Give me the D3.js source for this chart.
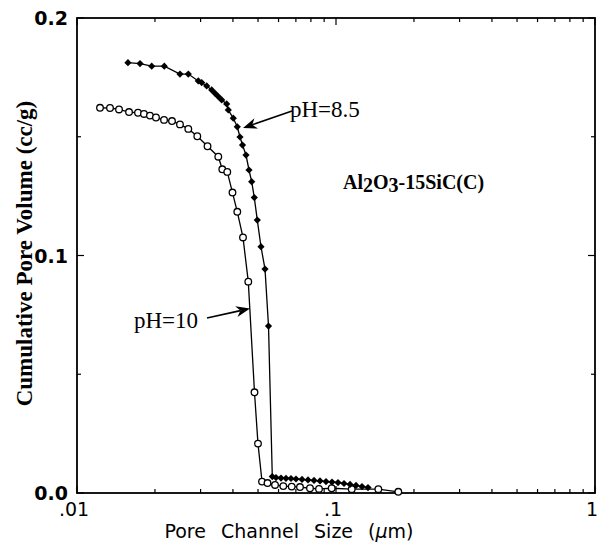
<!DOCTYPE html>
<html>
<head>
<meta charset="utf-8">
<script src="https://cdn.jsdelivr.net/npm/d3@7"></script>
<style>
  html, body { margin: 0; padding: 0; background: #fff; }
  svg { display: block; }
</style>
</head>
<body>
<div id="chart"></div>
<script>
// pore channel size (um) vs cumulative pore volume (cc/g)
var ph85Size = [0.01573, 0.01751, 0.01943, 0.02173, 0.02498, 0.02690, 0.02940, 0.03030, 0.03168, 0.03312,
  0.03411, 0.03512, 0.03620, 0.03784, 0.03838, 0.04012, 0.04158, 0.04259, 0.04355, 0.04493,
  0.04614, 0.04726, 0.04837, 0.04967, 0.05133, 0.05320, 0.05488, 0.05676, 0.05866, 0.06133,
  0.06411, 0.06703, 0.07008, 0.07393, 0.07797, 0.08226, 0.08676, 0.09151, 0.09652, 0.1018,
  0.1074, 0.1133, 0.1195, 0.1260, 0.1329];
var ph85Volume = [0.1812, 0.1808, 0.1797, 0.1797, 0.1764, 0.1764, 0.1735, 0.1728, 0.1714, 0.1697,
  0.1683, 0.1669, 0.1655, 0.1638, 0.1613, 0.1578, 0.1542, 0.1499, 0.1465, 0.1423,
  0.1360, 0.1311, 0.1244, 0.1149, 0.1037, 0.0943, 0.0703, 0.0069, 0.0065, 0.0063,
  0.0062, 0.0061, 0.0059, 0.0057, 0.0055, 0.0053, 0.0051, 0.0048, 0.0046, 0.0044,
  0.0040, 0.0036, 0.0032, 0.0027, 0.0023];

var ph10Size = [0.01227, 0.01341, 0.01453, 0.01588, 0.01720, 0.01814, 0.01913, 0.02018, 0.02168, 0.02327,
  0.02498, 0.02690, 0.02914, 0.03191, 0.03512, 0.03639, 0.03804, 0.03984, 0.04158, 0.04374,
  0.04585, 0.04845, 0.04998, 0.05180, 0.05440, 0.05815, 0.06259, 0.06745, 0.07261, 0.07935,
  0.08597, 0.09625, 0.1150, 0.1457, 0.1740];
var ph10Volume = [0.1622, 0.1621, 0.1615, 0.1604, 0.1601, 0.1596, 0.1589, 0.1581, 0.1571, 0.1566,
  0.1552, 0.1533, 0.1502, 0.1460, 0.1416, 0.1363, 0.1352, 0.1265, 0.1184, 0.1076,
  0.0890, 0.0424, 0.0208, 0.0048, 0.0042, 0.0034, 0.0029, 0.0027, 0.0025, 0.0020,
  0.0017, 0.0020, 0.0016, 0.0016, 0.0005];

var xTickValues = [0.01, 0.1, 1];
var xTickLabels = [".01", ".1", "1"];
var yTickValues = [0, 0.1, 0.2];
var yTickLabels = ["0.0", "0.1", "0.2"];
var yMinorValues = [0.05, 0.15];

(function() {
  var width = 599, height = 544;
  var pLeft = 77, pRight = 595, pTop = 18, pBottom = 493;

  var svg = d3.select('#chart').append('svg')
    .attr('width', width)
    .attr('height', height);

  var x = d3.scaleLog().domain([0.01, 1]).range([pLeft, pRight]);
  var y = d3.scaleLinear().domain([0, 0.2]).range([pBottom, pTop]);

  var serif = '"Liberation Serif", "Times New Roman", serif'
    , sans = '"DejaVu Sans", Verdana, sans-serif';

  //ticks, all pointing inward, mirrored on top and right
  var xMinor = x.ticks().filter(function(d) { return xTickValues.indexOf(d) < 0; });
  var ticks = svg.append('g').attr('stroke', '#000').attr('stroke-width', 1.2);

  function vtick(xv, len) {
    ticks.append('line').attr('x1', x(xv)).attr('x2', x(xv)).attr('y1', pBottom).attr('y2', pBottom - len);
    ticks.append('line').attr('x1', x(xv)).attr('x2', x(xv)).attr('y1', pTop).attr('y2', pTop + len);
  }
  function htick(yv, len) {
    ticks.append('line').attr('x1', pLeft).attr('x2', pLeft + len).attr('y1', y(yv)).attr('y2', y(yv));
    ticks.append('line').attr('x1', pRight).attr('x2', pRight - len).attr('y1', y(yv)).attr('y2', y(yv));
  }
  xTickValues.forEach(function(d) { vtick(d, 7); });
  xMinor.forEach(function(d) { vtick(d, 4); });
  yTickValues.forEach(function(d) { htick(d, 7); });
  yMinorValues.forEach(function(d) { htick(d, 4); });

  svg.append('rect')
    .attr('x', pLeft).attr('y', pTop)
    .attr('width', pRight - pLeft).attr('height', pBottom - pTop)
    .attr('fill', 'none').attr('stroke', '#000').attr('stroke-width', 1.8);

  //tick labels
  svg.append('g').selectAll('text')
    .data(xTickValues)
    .enter().append('text')
      .attr('x', function(d) { return x(d) - 3; })
      .attr('y', 516)
      .attr('text-anchor', 'middle')
      .style('font-family', sans)
      .style('font-size', '19px')
      .text(function(d, i) { return xTickLabels[i]; });

  svg.append('g').selectAll('text')
    .data(yTickValues)
    .enter().append('text')
      .attr('x', 68)
      .attr('y', function(d) { return y(d) + 7; })
      .attr('text-anchor', 'end')
      .style('font-family', sans)
      .style('font-weight', 'bold')
      .style('font-size', '19px')
      .text(function(d, i) { return yTickLabels[i]; });

  //axis titles
  var xt = svg.append('text')
    .attr('x', 289).attr('y', 538)
    .attr('text-anchor', 'middle')
    .style('font-family', sans)
    .style('font-size', '19px')
    .style('word-spacing', '9px');
  xt.append('tspan').text('Pore Channel Size (');
  xt.append('tspan').style('font-style', 'italic').text('\u03bc');
  xt.append('tspan').text('m)');

  svg.append('text')
    .attr('transform', 'translate(32,' + ((pTop + pBottom) / 2 - 2) + ')rotate(-90)')
    .attr('text-anchor', 'middle')
    .style('font-family', serif)
    .style('font-weight', 'bold')
    .style('font-size', '23px')
    .text('Cumulative Pore Volume (cc/g)');

  //curves
  var line = d3.line()
    .x(function(d) { return x(d[0]); })
    .y(function(d) { return y(d[1]); });

  var ph85 = d3.zip(ph85Size, ph85Volume)
    , ph10 = d3.zip(ph10Size, ph10Volume);

  svg.append('path').datum(ph10).attr('d', line)
    .attr('fill', 'none').attr('stroke', '#000').attr('stroke-width', 1.3);
  svg.append('path').datum(ph85).attr('d', line)
    .attr('fill', 'none').attr('stroke', '#000').attr('stroke-width', 1.3);

  svg.append('g').selectAll('circle')
    .data(ph10)
    .enter().append('circle')
      .attr('cx', function(d) { return x(d[0]); })
      .attr('cy', function(d) { return y(d[1]); })
      .attr('r', 3.3)
      .attr('fill', '#fff')
      .attr('stroke', '#000')
      .attr('stroke-width', 1.3);

  //filled diamonds = squares turned 45 degrees
  svg.append('g').selectAll('path')
    .data(ph85)
    .enter().append('path')
      .attr('d', d3.symbol().type(d3.symbolSquare).size(26))
      .attr('transform', function(d) { return 'translate(' + x(d[0]) + ',' + y(d[1]) + ')rotate(45)'; })
      .attr('fill', '#000');

  //annotations with arrows
  function arrow(x1, y1, x2, y2) {
    var a = Math.atan2(y2 - y1, x2 - x1), len = 14, w = 5.5;
    var bx = x2 - len * Math.cos(a), by = y2 - len * Math.sin(a);
    var nx = -Math.sin(a), ny = Math.cos(a);
    var mx = x2 - len * 0.7 * Math.cos(a), my = y2 - len * 0.7 * Math.sin(a);
    svg.append('line')
      .attr('x1', x1).attr('y1', y1).attr('x2', mx).attr('y2', my)
      .attr('stroke', '#000').attr('stroke-width', 1.6);
    svg.append('path')
      .attr('d', 'M' + x2 + ',' + y2 + 'L' + (bx + nx * w) + ',' + (by + ny * w) +
        'L' + mx + ',' + my + 'L' + (bx - nx * w) + ',' + (by - ny * w) + 'Z')
      .attr('fill', '#000');
  }

  arrow(292, 111, 243, 128);
  arrow(207, 318, 250, 308.5);

  svg.append('text')
    .attr('x', 290).attr('y', 117)
    .style('font-family', serif)
    .style('font-size', '23px')
    .text('pH=8.5');

  svg.append('text')
    .attr('x', 134).attr('y', 328)
    .style('font-family', serif)
    .style('font-size', '23px')
    .text('pH=10');

  var al = svg.append('text')
    .attr('x', 343).attr('y', 189)
    .style('font-family', serif)
    .style('font-weight', 'bold')
    .style('font-size', '20px');
  al.append('tspan').text('Al');
  al.append('tspan').attr('dy', 3).text('2');
  al.append('tspan').attr('dy', -3).text('O');
  al.append('tspan').attr('dy', 3).text('3');
  al.append('tspan').attr('dy', -3).text('-15SiC(C)');
})();
</script>
</body>
</html>
